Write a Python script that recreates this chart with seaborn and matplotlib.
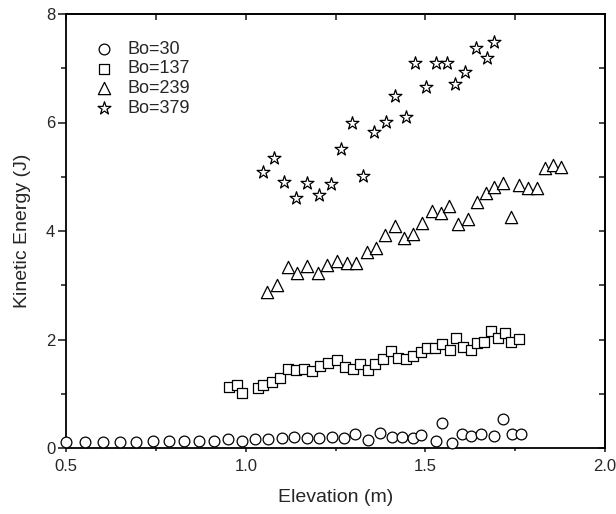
import numpy as np
import pandas as pd
import matplotlib
matplotlib.use("Agg")
import matplotlib.pyplot as plt
import seaborn as sns
from matplotlib.ticker import MultipleLocator, FormatStrFormatter

# Data (elevation in m, kinetic energy in J)
bo30_x = [0.500, 0.553, 0.602, 0.650, 0.695, 0.741, 0.785, 0.827, 0.869, 0.911,
          0.950, 0.989, 1.026, 1.063, 1.100, 1.135, 1.171, 1.205, 1.240, 1.274,
          1.304, 1.341, 1.373, 1.406, 1.435, 1.466, 1.489, 1.530, 1.546, 1.574,
          1.602, 1.627, 1.654, 1.692, 1.717, 1.741, 1.766]
bo30_y = [0.105, 0.110, 0.105, 0.115, 0.110, 0.120, 0.130, 0.130, 0.130, 0.135,
          0.170, 0.120, 0.160, 0.166, 0.178, 0.197, 0.178, 0.178, 0.197, 0.190,
          0.252, 0.147, 0.282, 0.197, 0.209, 0.190, 0.240, 0.129, 0.455, 0.087,
          0.252, 0.227, 0.252, 0.227, 0.529, 0.252, 0.252]

bo137_x = [0.952, 0.976, 0.990, 1.035, 1.047, 1.072, 1.095, 1.116, 1.140, 1.163,
           1.185, 1.207, 1.229, 1.253, 1.276, 1.297, 1.318, 1.340, 1.360, 1.383,
           1.405, 1.423, 1.445, 1.466, 1.487, 1.505, 1.527, 1.547, 1.568, 1.585,
           1.604, 1.627, 1.643, 1.664, 1.683, 1.703, 1.722, 1.738, 1.761]
bo137_y = [1.120, 1.155, 1.020, 1.112, 1.167, 1.217, 1.285, 1.462, 1.438, 1.456,
           1.425, 1.517, 1.572, 1.622, 1.498, 1.450, 1.542, 1.440, 1.540, 1.634,
           1.788, 1.665, 1.646, 1.702, 1.775, 1.849, 1.837, 1.911, 1.806, 2.033,
           1.867, 1.806, 1.941, 1.960, 2.163, 2.021, 2.114, 1.960, 2.009]

bo239_x = [1.060, 1.086, 1.116, 1.142, 1.170, 1.200, 1.227, 1.253, 1.281, 1.307,
           1.337, 1.362, 1.388, 1.414, 1.441, 1.465, 1.491, 1.518, 1.544, 1.567,
           1.592, 1.618, 1.643, 1.669, 1.691, 1.716, 1.738, 1.761, 1.785, 1.810,
           1.833, 1.855, 1.878]
bo239_y = [2.870, 3.005, 3.342, 3.220, 3.360, 3.220, 3.373, 3.447, 3.404, 3.416,
           3.607, 3.693, 3.926, 4.098, 3.877, 3.945, 4.140, 4.369, 4.326, 4.461,
           4.123, 4.221, 4.529, 4.707, 4.818, 4.880, 4.264, 4.848, 4.800, 4.800,
           5.156, 5.217, 5.174]

bo379_x = [1.049, 1.077, 1.106, 1.140, 1.170, 1.205, 1.236, 1.264, 1.295, 1.326,
           1.357, 1.390, 1.416, 1.445, 1.471, 1.501, 1.530, 1.560, 1.583, 1.611,
           1.641, 1.671, 1.692]
bo379_y = [5.082, 5.340, 4.909, 4.614, 4.890, 4.664, 4.866, 5.512, 5.985, 5.019,
           5.819, 6.015, 6.488, 6.096, 7.091, 6.660, 7.102, 7.102, 6.704, 6.936,
           7.379, 7.194, 7.489]

labels = ["Bo=30", "Bo=137", "Bo=239", "Bo=379"]

series = [
    (labels[0], bo30_x, bo30_y, "o", 60),
    (labels[1], bo137_x, bo137_y, "s", 50),
    (labels[2], bo239_x, bo239_y, "^", 78),
    (labels[3], bo379_x, bo379_y, "*", 95),
]

sns.set_style("ticks")
plt.rcParams["font.family"] = ["Liberation Sans", "DejaVu Sans"]

fig = plt.figure(figsize=(6.16, 5.14), dpi=100)
ax = fig.add_axes([66.3 / 616, 1 - 448 / 514, (605 - 66.3) / 616, (448 - 14) / 514])

for name, xs, ys, mk, sz in series:
    df = pd.DataFrame({"x": xs, "y": ys})
    sns.scatterplot(data=df, x="x", y="y", marker=mk, s=sz, facecolor="white",
                    edgecolor="black", linewidth=0.9, label=name, ax=ax, zorder=3,
                    clip_on=False)

ax.set_xlim(0.5, 2.0)
ax.set_ylim(0, 8)
ax.xaxis.set_major_locator(MultipleLocator(0.5))
ax.xaxis.set_minor_locator(MultipleLocator(0.25))
ax.xaxis.set_major_formatter(FormatStrFormatter("%.1f"))
ax.yaxis.set_major_locator(MultipleLocator(2))
ax.yaxis.set_minor_locator(MultipleLocator(1))

for sp in ax.spines.values():
    sp.set_visible(True)
    sp.set_linewidth(1.3)
    sp.set_color("black")

ax.tick_params(axis="y", which="major", direction="out", length=6, width=1.2, labelsize=12, pad=2)
ax.tick_params(axis="y", which="minor", direction="out", length=3.5, width=1.2)
ax.tick_params(axis="x", which="major", direction="out", length=3, width=1.2, labelsize=12, pad=5)
ax.tick_params(axis="x", which="minor", direction="out", length=2.5, width=1.2)

# mirrored ticks on top and right, pointing inward
top = ax.secondary_xaxis("top")
top.xaxis.set_major_locator(MultipleLocator(0.5))
top.xaxis.set_minor_locator(MultipleLocator(0.25))
top.tick_params(which="both", direction="in", length=4.5, width=1.2, labeltop=False)
right = ax.secondary_yaxis("right")
right.yaxis.set_major_locator(MultipleLocator(2))
right.yaxis.set_minor_locator(MultipleLocator(1))
right.tick_params(which="both", direction="in", length=4, width=1.2, labelright=False)
for sec in (top, right):
    for sp in sec.spines.values():
        sp.set_linewidth(1.3)

ax.set_xlabel("Elevation (m)", fontsize=14, labelpad=11)
ax.set_ylabel("Kinetic Energy (J)", fontsize=14, labelpad=11)

leg = ax.legend(loc="upper left", frameon=False, fontsize=13, handletextpad=0.8,
                labelspacing=0.15, borderaxespad=0.0, bbox_to_anchor=(0.04, 0.955),
                handlelength=1.0)

fig.savefig("out.png", dpi=100)
